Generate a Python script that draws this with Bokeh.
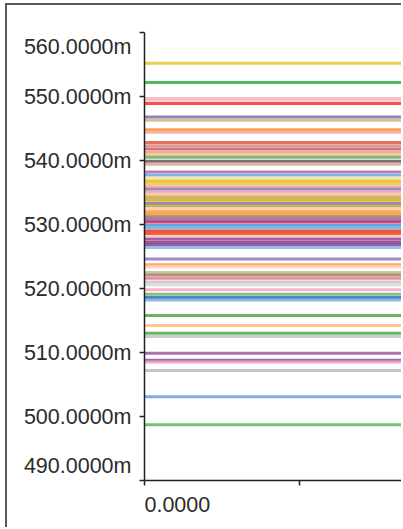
from bokeh.plotting import figure
from bokeh.models import Range1d, FixedTicker, PrintfTickFormatter, InlineStyleSheet
from bokeh.embed import file_html
from bokeh.resources import INLINE

# elevations (m) of each horizontal line and its colour
elevations = [555.2, 552.2, 549.7, 549.4, 548.9, 546.8, 546.3, 544.8, 544.4,
              542.8, 542.3, 541.8, 541.3, 540.9, 540.5, 539.9, 539.4, 538.2,
              537.7, 537.3, 536.8, 536.4, 535.9, 535.5, 535.1, 534.6, 534.2,
              533.8, 533.3, 532.9, 532.4, 532.0, 531.6, 531.2, 530.8, 530.4,
              529.9, 529.5, 529.0, 528.6, 528.1, 527.7, 527.2, 526.8, 526.4,
              524.6, 523.7, 523.4, 522.5, 522.1, 521.6, 521.0, 520.6, 519.8,
              519.1, 518.6, 518.2, 515.8, 514.2, 513.0, 512.5, 509.9, 508.8,
              508.5, 507.2, 503.1, 498.7]
colors = ["#e8c93a", "#3db54a", "#f9b4cc", "#f7c0c8", "#ee4035", "#8877aa",
          "#c8bd8e", "#ff9632", "#f8a8a8", "#e06050", "#e88a8a", "#c06b6b",
          "#f4a582", "#f7c59f", "#6db36d", "#7a5a6a", "#d2b48c", "#b070b0",
          "#6aaee0", "#f0e6b0", "#e6c020", "#e8cc40", "#f4a0b0", "#9088b0",
          "#f0a0c0", "#f0c080", "#c8b050", "#d0b030", "#8a80a8", "#c0a848",
          "#ffd0a0", "#ffa040", "#f0a050", "#a08070", "#9a70b0", "#d03060",
          "#50a0d8", "#70b0e0", "#e84030", "#f05020", "#f8c0c0", "#9050a0",
          "#a04080", "#8050a0", "#90b8e8", "#9080c0", "#ffa060", "#ffd0b0",
          "#c8c090", "#a08878", "#f08090", "#c8c8c8", "#d8d8d8", "#f8a8c8",
          "#70b870", "#3a78c0", "#80b0e0", "#5aaa5a", "#ffc080", "#50b050",
          "#c8c8c8", "#a060b0", "#8060a8", "#f4a0c0", "#c0c0c0", "#7aa0e0",
          "#60c060"]
y_ticks = [490, 500, 510, 520, 530, 540, 550, 560]
x_ticks = [0.0, 0.6]
X_START, X_END = 0.0, 1.0

p = figure(width=396, height=524, output_backend="svg", toolbar_location=None,
           x_range=Range1d(0, 1), y_range=Range1d(490, 560),
           min_border_left=137, min_border_top=27, min_border_bottom=49,
           min_border_right=0)
p.stylesheets = [InlineStyleSheet(css=":host { margin-left: 5px; margin-top: 3px; "
                                      "border-left: 2px solid #5a5a5a; "
                                      "border-top: 2px solid #5a5a5a; }")]
p.grid.visible = False
p.outline_line_color = None

p.segment(x0=[X_START] * len(elevations), x1=[X_END] * len(elevations),
          y0=elevations, y1=elevations, line_color=colors, line_width=3,
          line_alpha=0.9)

font = "Liberation Sans"
fmt = "%.4fm"
ya = p.yaxis[0]
ya.ticker = FixedTicker(ticks=y_ticks)
ya.formatter = PrintfTickFormatter(format=fmt)
# end labels are nudged inside the axis span
ya.major_label_overrides = {y_ticks[-1]: "\n" + fmt % y_ticks[-1],
                            y_ticks[0]: fmt % y_ticks[0] + "\n"}
ya.major_label_text_font = font
ya.major_label_text_font_size = "21.5px"
ya.major_label_text_color = "#2b2b2b"
ya.major_tick_out = 5
ya.major_tick_in = 0
ya.minor_tick_line_color = None
ya.major_label_standoff = 8
ya.axis_line_color = "#222222"
ya.axis_line_width = 1.5
ya.major_tick_line_color = "#222222"
ya.major_tick_line_width = 1.5

xa = p.xaxis[0]
xa.ticker = FixedTicker(ticks=x_ticks)
xa.formatter = PrintfTickFormatter(format="%.4f")
# first label starts at its tick rather than centred on it
xa.major_label_overrides = {x_ticks[0]: "\u00a0" * 11 + "%.4f" % x_ticks[0],
                            x_ticks[1]: " "}
xa.major_label_text_font = font
xa.major_label_text_font_size = "21.5px"
xa.major_label_text_color = "#2b2b2b"
xa.major_tick_out = 5
xa.major_tick_in = 0
xa.minor_tick_line_color = None
xa.major_label_standoff = 7
xa.axis_line_color = "#222222"
xa.axis_line_width = 1.5
xa.major_tick_line_color = "#222222"
xa.major_tick_line_width = 1.5

open("out.html", "w").write(file_html(p, INLINE))
